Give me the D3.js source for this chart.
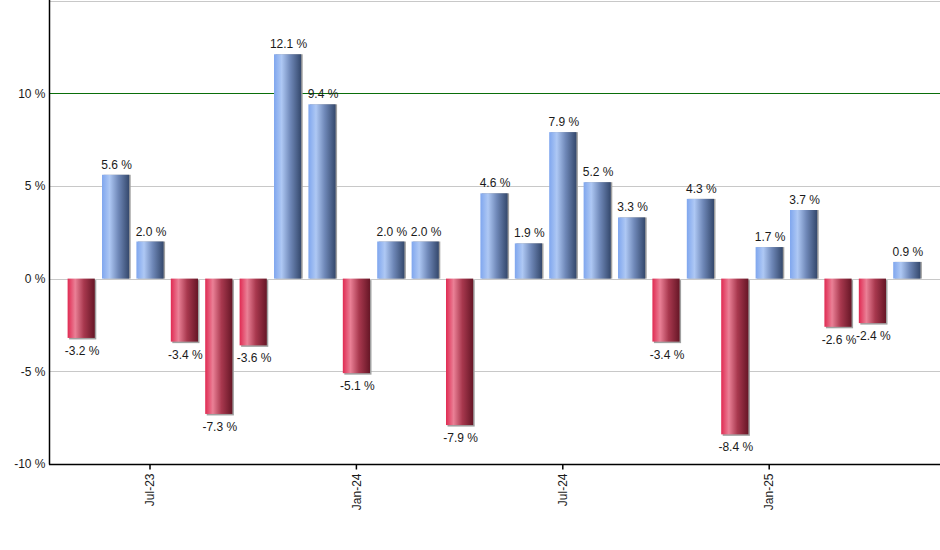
<!DOCTYPE html>
<html>
<head>
<meta charset="utf-8">
<script src="https://cdn.jsdelivr.net/npm/d3@7"></script>
<style>
  body { margin: 0; background: #fff; }
  text { font-family: "Liberation Sans", Arial, sans-serif; }
</style>
</head>
<body>
<div id="chart"></div>
<script>
  var months = ["May-23","Jun-23","Jul-23","Aug-23","Sep-23","Oct-23","Nov-23","Dec-23",
                "Jan-24","Feb-24","Mar-24","Apr-24","May-24","Jun-24","Jul-24","Aug-24",
                "Sep-24","Oct-24","Nov-24","Dec-24","Jan-25","Feb-25","Mar-25","Apr-25","May-25"];
  var returns = [-3.2, 5.6, 2.0, -3.4, -7.3, -3.6, 12.1, 9.4, -5.1, 2.0, 2.0, -7.9, 4.6,
                 1.9, 7.9, 5.2, 3.3, -3.4, 4.3, -8.4, 1.7, 3.7, -2.6, -2.4, 0.9];
  var xTickLabels = ["Jul-23", "Jan-24", "Jul-24", "Jan-25"];
  var yTicks = [-10, -5, 0, 5, 10];
  var gridValues = [-5, 0, 5, 10, 15];

  var width = 940, height = 550;
  var margin = { top: 0.5, left: 50, right: 0, bottom: 86 };

  var data = months.map(function(m, i) { return { month: m, value: returns[i] }; });

  var svg = d3.select("#chart").append("svg")
      .attr("width", width)
      .attr("height", height);

  // gradients for the bars
  var defs = svg.append("defs");
  function addGradient(id, stops) {
    var g = defs.append("linearGradient").attr("id", id)
        .attr("x1", "0%").attr("x2", "100%").attr("y1", "0%").attr("y2", "0%");
    stops.forEach(function(s) {
      g.append("stop").attr("offset", s[0]).attr("stop-color", s[1]);
    });
  }
  addGradient("gradPos", [["0%", "#7fa6ee"], ["28%", "#aec8f4"], ["60%", "#6f88b8"], ["100%", "#34486c"]]);
  addGradient("gradNeg", [["0%", "#e02a52"], ["28%", "#ea8096"], ["60%", "#a8384e"], ["100%", "#661626"]]);

  var x = d3.scaleBand()
    .domain(months)
    .range([64, 924])
    .paddingInner(0.21)
    .paddingOuter(0.105);

  var y = d3.scaleLinear()
    .domain([-10, 15])
    .range([height - margin.bottom, margin.top]);

  var y0 = y(-10);

  // grid lines
  svg.append("g").selectAll("line")
    .data(gridValues)
    .enter()
    .append("line")
    .attr("x1", margin.left)
    .attr("x2", width)
    .attr("y1", d => Math.round(y(d)) + 0.5)
    .attr("y2", d => Math.round(y(d)) + 0.5)
    .attr("stroke", d => d == 10 ? "#0a6e0a" : "#c8c8c8")
    .attr("stroke-width", 1);

  // bar shadows
  svg.append("g").selectAll("rect")
    .data(data)
    .enter()
    .append("rect")
    .attr("x", d => x(d.month) + 1.5)
    .attr("y", d => Math.min(y(d.value), y(0)) + (d.value < 0 ? 1.5 : 0))
    .attr("width", x.bandwidth())
    .attr("height", d => Math.abs(y(d.value) - y(0)))
    .attr("fill", "#a0a0a0");

  // bars
  svg.append("g").selectAll("rect")
    .data(data)
    .enter()
    .append("rect")
    .attr("x", d => x(d.month))
    .attr("y", d => Math.min(y(d.value), y(0)))
    .attr("width", x.bandwidth())
    .attr("height", d => Math.abs(y(d.value) - y(0)))
    .attr("fill", d => d.value >= 0 ? "url(#gradPos)" : "url(#gradNeg)");

  // value labels
  svg.append("g").selectAll("text")
    .data(data)
    .enter()
    .append("text")
    .attr("x", d => x(d.month) + x.bandwidth() / 2 + 1)
    .attr("y", d => d.value >= 0 ? y(d.value) - 6 : y(d.value) + 17)
    .attr("text-anchor", "middle")
    .attr("font-size", "12px")
    .attr("fill", "#1a1a1a")
    .text(d => d.value.toFixed(1) + " %");

  // axes
  var axisy = d3.axisLeft(y)
    .tickValues(yTicks)
    .tickSize(0)
    .tickPadding(4)
    .tickFormat(d => d + " %");

  var gy = svg.append("g")
    .attr("transform", "translate(" + (margin.left - 0.5) + ",0)")
    .call(axisy);
  gy.select(".domain").remove();
  gy.selectAll("text").attr("font-size", "12px").attr("fill", "#1a1a1a").attr("font-family", "Liberation Sans, Arial, sans-serif");

  svg.append("line")
    .attr("x1", margin.left - 0.5).attr("x2", margin.left - 0.5)
    .attr("y1", 0).attr("y2", y0 + 0.5)
    .attr("stroke", "#000").attr("stroke-width", 1.5);

  var axisx = d3.axisBottom(x)
    .tickValues(xTickLabels)
    .tickSize(5)
    .tickSizeOuter(0)
    .tickPadding(4);

  var gx = svg.append("g")
    .attr("transform", "translate(0," + (Math.round(y0) + 0.5) + ")")
    .call(axisx);
  gx.select(".domain").remove();
  gx.selectAll(".tick line").attr("stroke", "#000").attr("stroke-width", 1.5);
  gx.selectAll("text")
    .attr("font-size", "12px")
    .attr("fill", "#1a1a1a")
    .attr("font-family", "Liberation Sans, Arial, sans-serif")
    .attr("transform", "rotate(-90)")
    .attr("text-anchor", "end")
    .attr("dy", "0.35em")
    .attr("x", -9)
    .attr("y", 0);

  svg.append("line")
    .attr("x1", margin.left - 1).attr("x2", width)
    .attr("y1", Math.round(y0) + 0.5).attr("y2", Math.round(y0) + 0.5)
    .attr("stroke", "#000").attr("stroke-width", 1.5);
</script>
</body>
</html>
